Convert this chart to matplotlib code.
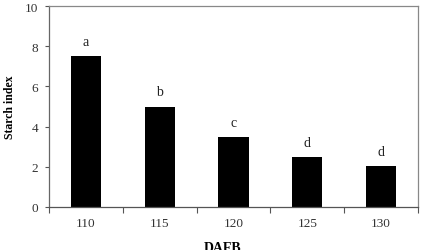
import matplotlib
matplotlib.use("Agg")
import matplotlib.pyplot as plt
import numpy as np

categories = ["110", "115", "120", "125", "130"]
values = [7.5, 5.0, 3.5, 2.5, 2.05]
letters = ["a", "b", "c", "d", "d"]
yticks = [0, 2, 4, 6, 8, 10]

plt.rcParams['font.family'] = ['Liberation Serif', 'DejaVu Serif']

fig = plt.figure(figsize=(4.21, 2.51), dpi=100)
ax = fig.add_axes([49/421, 1 - 208/251, (418-49)/421, (208-7)/251])

x = np.arange(len(categories))
ax.bar(x, values, width=0.41, color='black')
for xi, v, l in zip(x, values, letters):
    ax.text(xi, v + 0.4, l, ha='center', va='bottom', fontsize=10, color='#222222')

ax.set_xlim(-0.5, len(categories) - 0.5)
ax.set_ylim(0, 10)
ax.set_yticks(yticks)
ax.set_xticks(x)
ax.set_xticklabels(categories)
ax.set_xticks(np.arange(len(categories) + 1) - 0.5, minor=True)
ax.tick_params(axis='x', which='major', length=0, pad=7, labelsize=9.5, colors='#333333')
ax.tick_params(axis='x', which='minor', length=4, width=0.8, direction='out', color='#555555')
ax.tick_params(axis='y', length=3, width=0.8, direction='out', labelsize=9.5, colors='#333333', color='#555555', pad=5)

for s in ax.spines.values():
    s.set_color('#888888')
    s.set_linewidth(0.9)
ax.spines['bottom'].set_color('#555555')
ax.spines['left'].set_color('#666666')

ax.set_ylabel('Starch index', fontsize=8.5, fontweight='bold', va='center')
ax.yaxis.set_label_coords(-0.105, 0.5)
ax.set_xlabel('DAFB', fontsize=10, fontweight='bold', va='top')
ax.xaxis.set_label_coords(0.47, -0.17)

fig.savefig('out.png', dpi=100)
